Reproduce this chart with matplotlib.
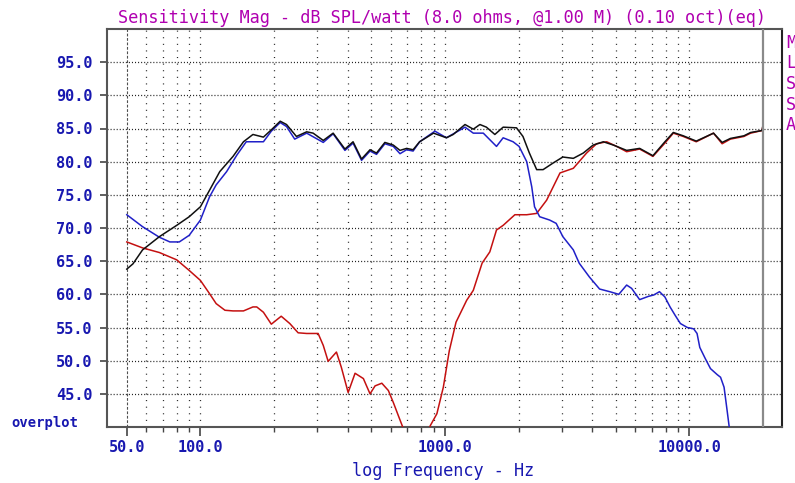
import numpy as np
import matplotlib
matplotlib.use("Agg")
import matplotlib.pyplot as plt
from matplotlib.ticker import FixedLocator, NullFormatter

# traces (Hz, dB)
black_f = [50, 53, 58, 68, 80, 90, 100, 109, 120, 136, 150, 164, 181, 195, 212, 225, 247,
           272, 289, 318, 349, 390, 421, 456, 494, 525, 568, 615, 655, 697, 741, 788, 898,
           1014, 1081, 1208, 1306, 1390, 1478, 1600, 1730, 1962, 2085, 2215, 2372, 2520,
           2770, 3035, 3350, 3680, 4035, 4445, 4885, 5535, 6255, 7090, 7935, 8590, 9430,
           10660, 12540, 13600, 14700, 16700, 17790, 19820, 20000]
black_db = [63.8, 64.6, 66.7, 68.7, 70.4, 71.7, 73.2, 75.7, 78.5, 80.8, 83.0, 84.1, 83.7,
            84.8, 86.1, 85.6, 83.8, 84.5, 84.3, 83.2, 84.3, 81.9, 83.0, 80.4, 81.8, 81.3,
            82.9, 82.5, 81.7, 82.0, 81.8, 83.0, 84.3, 83.6, 84.1, 85.6, 84.9, 85.6, 85.2,
            84.1, 85.2, 85.1, 83.8, 81.3, 78.8, 78.8, 79.8, 80.7, 80.5, 81.3, 82.5, 83.0,
            82.5, 81.7, 82.0, 80.9, 83.0, 84.4, 83.9, 83.1, 84.3, 82.9, 83.5, 83.9, 84.4,
            84.7, 85.6]

blue_f = [50, 58, 68, 75, 82, 90, 100, 109, 116, 128, 141, 154, 164, 181, 195, 212, 225,
          243, 272, 318, 349, 390, 421, 456, 494, 525, 568, 615, 655, 697, 741, 788, 910,
          1014, 1208, 1306, 1435, 1625, 1730, 1900, 2010, 2160, 2265, 2325, 2440, 2680,
          2850, 3035, 3350, 3540, 3900, 4290, 4720, 5140, 5535, 5800, 6255, 6800, 7140,
          7540, 7935, 8330, 8750, 9180, 9800, 10400, 10740, 11020, 11610, 12190, 12980,
          13400, 13850, 14080, 14310, 14540, 14700]
blue_db = [72.0, 70.2, 68.6, 67.9, 67.9, 68.9, 71.2, 74.7, 76.5, 78.5, 81.0, 83.0, 83.0,
           83.0, 84.6, 85.9, 85.3, 83.4, 84.3, 82.9, 84.2, 81.7, 82.8, 80.2, 81.6, 81.1,
           82.7, 82.3, 81.2, 81.8, 81.6, 83.0, 84.6, 83.6, 85.2, 84.3, 84.3, 82.3, 83.6,
           83.0, 82.3, 80.0, 76.2, 73.2, 71.7, 71.2, 70.7, 68.7, 66.7, 64.7, 62.6, 60.8,
           60.4, 60.0, 61.4, 60.9, 59.2, 59.7, 59.9, 60.4, 59.6, 58.1, 56.8, 55.6, 55.0,
           54.8, 54.1, 52.0, 50.3, 48.8, 47.9, 47.5, 46.0, 44.0, 42.0, 40.0, 38.0]

red_f = [50, 58, 68, 80, 90, 100, 109, 116, 126, 136, 150, 164, 170, 181, 195, 214, 232,
         251, 272, 303, 318, 333, 360, 377, 402, 429, 464, 478, 494, 518, 552, 587, 615,
         645, 672, 700, 840, 871, 927, 985, 1042, 1110, 1227, 1306, 1419, 1526, 1625,
         1730, 1932, 2160, 2372, 2606, 2955, 3350, 3795, 4170, 4585, 5040, 5535, 6255,
         7090, 7935, 8590, 9430, 10660, 12540, 13600, 14700, 16700, 17790, 19820, 20000]
red_db = [67.9, 67.0, 66.3, 65.2, 63.6, 62.1, 60.1, 58.6, 57.6, 57.5, 57.5, 58.1, 58.1,
          57.3, 55.5, 56.7, 55.6, 54.2, 54.1, 54.1, 52.3, 49.9, 51.3, 49.0, 45.2, 48.1,
          47.3, 46.2, 45.0, 46.2, 46.6, 45.5, 43.7, 41.7, 40.0, 38.0, 38.0, 40.2, 42.0,
          46.0, 51.5, 55.8, 59.1, 60.6, 64.7, 66.4, 69.7, 70.4, 72.0, 72.0, 72.2, 74.2,
          78.3, 79.0, 81.3, 82.7, 83.0, 82.3, 81.5, 81.9, 80.8, 82.8, 84.3, 83.8, 83.0,
          84.3, 82.7, 83.4, 83.8, 84.3, 84.7, 85.6]

y_ticks = [45, 50, 55, 60, 65, 70, 75, 80, 85, 90, 95]
x_major = [50, 100, 1000, 10000]
x_minor = [60, 70, 80, 90, 200, 300, 400, 500, 600, 700, 800, 900,
           2000, 3000, 4000, 5000, 6000, 7000, 8000, 9000]
side_letters = ["M", "L", "S", "S", "A"]

TXT_BLUE = "#1818b0"
MAGENTA = "#b000b0"
FONT = "DejaVu Sans Mono"
W, H = 795, 483

plt.rcParams["lines.scale_dashes"] = False

fig = plt.figure(figsize=(W / 100, H / 100), dpi=100)
ax = fig.add_axes([107 / W, 1 - 427 / H, (782 - 107) / W, (427 - 29) / H])
ax.set_xscale("log")
ax.set_xlim(41.5, 23900)
ax.set_ylim(40, 100)

# grid
for yv in y_ticks:
    ax.axhline(yv, color="#202020", lw=0.9, ls=(0, (0.75, 1.45)), zorder=1)
for xv in x_minor + x_major[1:]:
    ax.axvline(xv, color="#202020", lw=0.9, ls=(0, (0.75, 4.0)), zorder=1)
ax.axvline(50, color="#505050", lw=0.8, ls=(0, (2.0, 1.2)), zorder=1)
ax.axvline(20000, color="#8a8a8a", lw=1.6, zorder=4)

ax.plot(red_f, red_db, color="#c41010", lw=1.1, zorder=3)
ax.plot(blue_f, blue_db, color="#2020c8", lw=1.1, zorder=3)
ax.plot(black_f, black_db, color="#101010", lw=1.1, zorder=3)

# axes cosmetics
for s in ax.spines.values():
    s.set_color("#555555")
    s.set_linewidth(1.5)
ax.spines["right"].set_color("#222222")

ax.yaxis.set_major_locator(FixedLocator(y_ticks))
ax.set_yticklabels(["%.1f" % v for v in y_ticks])
ax.xaxis.set_major_locator(FixedLocator(x_major))
ax.xaxis.set_minor_locator(FixedLocator(x_minor))
ax.xaxis.set_minor_formatter(NullFormatter())
ax.set_xticklabels(["%.1f" % v for v in x_major])
ax.yaxis.set_minor_locator(FixedLocator([]))

ax.tick_params(axis="y", which="major", direction="out", length=5, width=1.2,
               color="#444444", pad=5.5, labelcolor=TXT_BLUE)
ax.tick_params(axis="x", which="major", direction="out", length=6.5, width=1.2,
               color="#444444", pad=3, labelcolor=TXT_BLUE)
ax.tick_params(axis="x", which="minor", direction="out", length=3.6, width=1.0,
               color="#444444")
for lab in ax.get_xticklabels() + ax.get_yticklabels():
    lab.set_fontfamily(FONT)
    lab.set_fontweight("bold")
    lab.set_fontsize(11)

fig.text(441.7 / W, 1 - 18 / H,
         "Sensitivity Mag - dB SPL/watt (8.0 ohms, @1.00 M) (0.10 oct)(eq)",
         color=MAGENTA, family=FONT, fontsize=12.2, ha="center", va="center")
fig.text(443 / W, 1 - 471.5 / H, "log Frequency - Hz", color=TXT_BLUE,
         family=FONT, fontsize=12.2, ha="center", va="center")
fig.text(11 / W, 1 - 422.5 / H, "overplot", color=TXT_BLUE, family=FONT,
         fontweight="bold", fontsize=10, ha="left", va="center")

for i, letter in enumerate(side_letters):
    fig.text(786 / W, 1 - (43 + i * 20.5) / H, letter, color=MAGENTA, family=FONT,
             fontsize=12.2, ha="left", va="center")

fig.savefig("out.png", dpi=100, facecolor="white")
